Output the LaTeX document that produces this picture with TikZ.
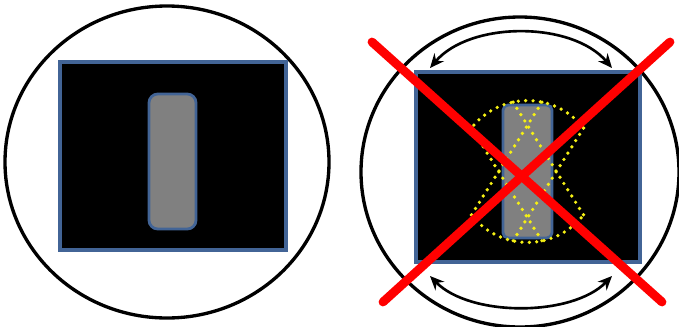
\documentclass[tikz,border=0pt]{standalone}
\usetikzlibrary{calc, arrows.meta}

\definecolor{rimblue}{RGB}{66,100,150}
\definecolor{bargray}{RGB}{128,128,128}
\definecolor{sweepyellow}{RGB}{245,240,20}

\begin{document}
\begin{tikzpicture}[>={Stealth[length=8pt,width=7pt]}, x=0.02cm, y=0.02cm]

  % Styles for the two views
  \tikzset{
    lens/.style={line width=1.9pt},
    sensor/.style={fill=black, draw=rimblue, line width=2pt},
    slit/.style={fill=bargray, draw=rimblue, line width=1.6pt, rounded corners=5pt},
    sweep/.style={draw=sweepyellow, line width=2.1pt, line cap=round, dash pattern=on 0pt off 4.2pt},
    turn/.style={line width=1.5pt, <->},
    cross/.style={red, line width=5pt, line cap=round}
  }

  \useasboundingbox (0,0) rectangle (679,326);

  % 1. Left view: upright slit
  \draw[lens] (167,164) ellipse [x radius=162, y radius=156];
  \draw[sensor] (60,76) rectangle (286,264);
  \draw[slit] (149,97) rectangle (196,232);

  % 2. Right view: key points
  \coordinate (O) at (520,154);     % centre of the lens
  \coordinate (M) at (527.5,154.5); % centre of the slit
  \coordinate (TL) at (430,258);
  \coordinate (TR) at (612,258);
  \coordinate (BL) at (430,50);
  \coordinate (BR) at (612,50);

  % --- LENS AND ROTATION ARROWS ---
  \draw[lens] (O) ellipse [x radius=159, y radius=155];
  \draw[turn] (TL) .. controls (470,305) and (572,305) .. (TR);
  \draw[turn] (BL) .. controls (470,9) and (572,9) .. (BR);

  % --- SENSOR AND SLIT ---
  \draw[sensor] (416,64) rectangle (640,254);
  \draw[slit, rounded corners=3pt] (503,88) rectangle (552,221);

  % --- SWEPT SLIT (dotted outline) ---
  \begin{scope}[shift={(M)}, rotate=32]
    \draw[sweep] (-24.5,66.5) -- (-24.5,-66.5) (24.5,66.5) -- (24.5,-66.5);
  \end{scope}
  \begin{scope}[shift={(M)}, rotate=-32]
    \draw[sweep] (-24.5,66.5) -- (-24.5,-66.5) (24.5,66.5) -- (24.5,-66.5);
  \end{scope}
  \draw[sweep] ($(M)+(37.8:70.9)$) arc [start angle=37.8, end angle=142.2, radius=70.9];
  \draw[sweep] ($(M)+(217.8:70.9)$) arc [start angle=217.8, end angle=322.2, radius=70.9];

  % --- RED CROSS ---
  \draw[cross] (372,284) -- (662,24);
  \draw[cross] (670,284) -- (383,24);

\end{tikzpicture}
\end{document}
